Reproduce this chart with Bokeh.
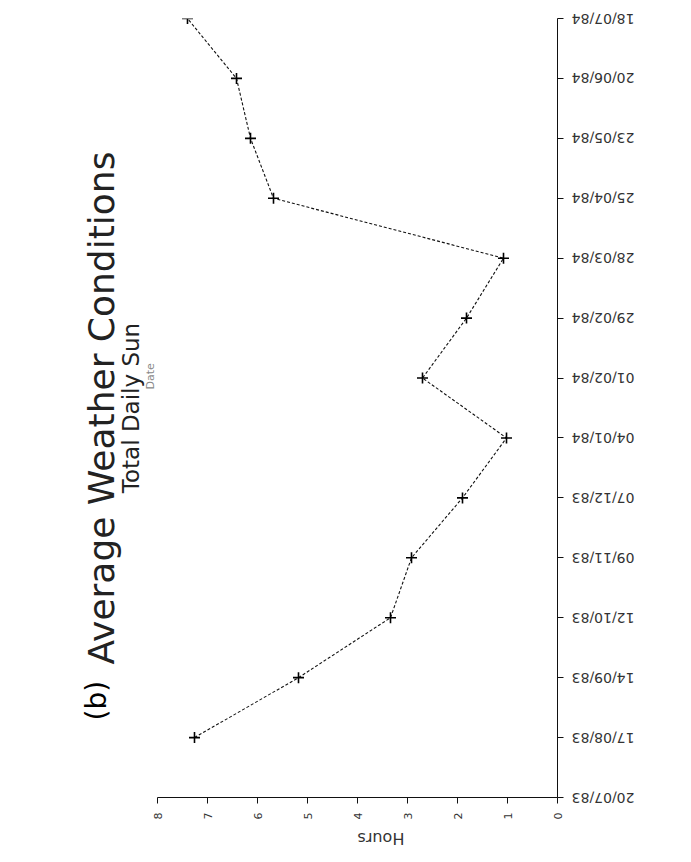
import math
from bokeh.plotting import figure
from bokeh.models import Range1d, LinearAxis, FixedTicker, Title, ColumnDataSource
from bokeh.embed import file_html
from bokeh.resources import INLINE

# ---- data ----
dates = ["20/07/83", "17/08/83", "14/09/83", "12/10/83", "09/11/83", "07/12/83",
         "04/01/84", "01/02/84", "29/02/84", "28/03/84", "25/04/84", "23/05/84",
         "20/06/84", "18/07/84"]
sun_dates = ["17/08/83", "14/09/83", "12/10/83", "09/11/83", "07/12/83", "04/01/84",
             "01/02/84", "29/02/84", "28/03/84", "25/04/84", "23/05/84", "20/06/84",
             "18/07/84"]
sun_hours = [7.26, 5.18, 3.34, 2.92, 1.90, 1.02, 2.70, 1.82, 1.08, 5.68, 6.14, 6.42, 7.40]
hour_ticks = [0, 1, 2, 3, 4, 5, 6, 7, 8]

title_text = "Average Weather Conditions"
subtitle_text = "Total Daily Sun"
x_title = "Date"
y_title = "Hours"
panel_tag = "(b)"

src = ColumnDataSource(dict(
    hours=sun_hours,
    pos=[dates.index(d) for d in sun_dates],
    date=sun_dates,
))

p = figure(frame_width=400, frame_height=779,
           x_range=Range1d(8, 0), y_range=Range1d(0, len(dates) - 1),
           x_axis_location=None, y_axis_location=None,
           output_backend="svg", toolbar_location=None,
           min_border_left=157, min_border_top=18,
           min_border_right=130, min_border_bottom=63,
           background_fill_color="white", border_fill_color="white")
p.outline_line_color = None
p.grid.visible = False

xaxis = LinearAxis(ticker=FixedTicker(ticks=hour_ticks),
                   major_label_orientation=math.pi / 2,
                   major_tick_in=0, major_tick_out=6,
                   minor_tick_line_color=None,
                   major_label_standoff=9,
                   major_label_text_font="DejaVu Sans",
                   major_label_text_font_size="11px",
                   major_label_text_color="#333333",
                   axis_label=y_title,
                   axis_label_standoff=16,
                   axis_label_text_font="DejaVu Sans",
                   axis_label_text_font_size="16px",
                   axis_label_text_font_style="normal",
                   axis_label_text_color="#333333",
                   axis_line_color="#111111", major_tick_line_color="#111111")
try:
    xaxis.axis_label_orientation = math.pi
except Exception:
    pass
p.add_layout(xaxis, "below")

yaxis = LinearAxis(ticker=FixedTicker(ticks=list(range(len(dates)))),
                   major_label_overrides={i: d for i, d in enumerate(dates)},
                   major_label_orientation=-math.pi,
                   major_tick_in=0, major_tick_out=6,
                   minor_tick_line_color=None,
                   major_label_standoff=71,
                   major_label_text_font="DejaVu Sans",
                   major_label_text_font_size="14px",
                   major_label_text_color="#333333",
                   axis_line_color="#111111", major_tick_line_color="#111111")
p.add_layout(yaxis, "right")

p.line("hours", "pos", source=src, line_color="#111111", line_width=1.1,
       line_dash="3 2")
p.scatter("hours", "pos", source=src, marker="cross", size=11,
          line_color="#000000", line_width=1.6)

t_date = Title(text=x_title, align="left", offset=408, standoff=2,
               text_font="DejaVu Sans", text_font_size="11px",
               text_font_style="normal", text_color="#888888")
t_sub = Title(text=subtitle_text, align="center", standoff=-6,
              text_font="DejaVu Sans", text_font_size="23px",
              text_font_style="normal", text_color="#222222")
t_main = Title(text=title_text, align="center", standoff=-6,
               text_font="DejaVu Sans", text_font_size="36px",
               text_font_style="normal", text_color="#222222")
t_tag = Title(text=panel_tag, align="left", offset=77, standoff=-63,
              text_font="DejaVu Sans", text_font_size="28px",
              text_font_style="normal", text_color="#000000")
for t in (t_date, t_sub, t_main, t_tag):
    p.add_layout(t, "left")

open("out.html", "w").write(file_html(p, INLINE))
